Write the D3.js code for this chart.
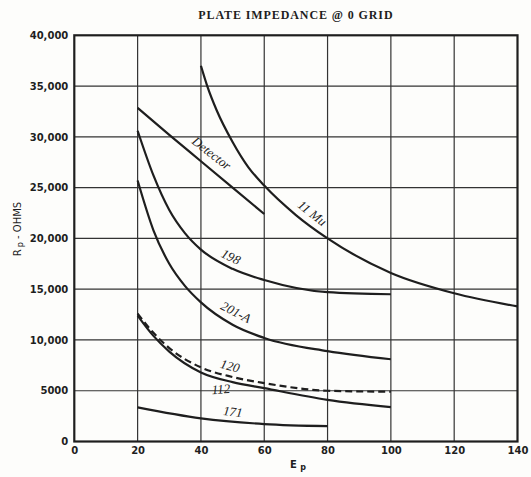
<!DOCTYPE html>
<html>
<head>
<meta charset="utf-8">
<script src="https://cdn.jsdelivr.net/npm/d3@7"></script>
<style>
  html, body { margin: 0; padding: 0; background: #fdfdfb; }
  svg { display: block; }
</style>
</head>
<body>
<svg id="chart" width="531" height="477"></svg>
<script>
// ---- Data ----
const xTicks = [0, 20, 40, 60, 80, 100, 120, 140];
const yTicks = [0, 5000, 10000, 15000, 20000, 25000, 30000, 35000, 40000];
const yTickLabels = ["0", "5000", "10,000", "15,000", "20,000", "25,000", "30,000", "35,000", "40,000"];

const mu11Ep = [40, 42, 45, 50, 55, 60, 70, 80, 100, 120, 140];
const mu11Rp = [37000, 35000, 32600, 29500, 27000, 25200, 22300, 20000, 16600, 14600, 13300];

const detectorEp = [20, 30, 40, 50, 60];
const detectorRp = [32850, 30200, 27600, 25000, 22400];

const t198Ep = [20, 25, 30, 35, 40, 50, 60, 80, 100];
const t198Rp = [30600, 26200, 22800, 20500, 18900, 17000, 15900, 14700, 14500];

const t201Ep = [20, 25, 30, 35, 40, 50, 60, 80, 100];
const t201Rp = [25700, 20800, 17500, 15300, 13700, 11500, 10200, 8900, 8100];

const t120Ep = [20, 25, 30, 40, 50, 60, 80, 100];
const t120Rp = [12600, 10700, 9200, 7300, 6350, 5750, 5000, 4900];

const t112Ep = [20, 25, 30, 40, 50, 60, 80, 100];
const t112Rp = [12400, 10400, 8850, 6800, 5850, 5250, 4100, 3380];

const t171Ep = [20, 40, 60, 80];
const t171Rp = [3360, 2280, 1720, 1520];

const seriesNames = ["11 Mu", "Detector", "198", "201-A", "120", "112", "171"];

// ---- Chart ----
const svg = d3.select("#chart");
const x = d3.scaleLinear().domain([0, 140]).range([74.3, 517.5]);
const y = d3.scaleLinear().domain([0, 40000]).range([441.5, 35.3]);

const ink = "#1e1e1e";

// gridlines
const g = svg.append("g");
g.selectAll("line.v").data(xTicks.slice(1, -1)).join("line")
  .attr("x1", d => x(d)).attr("x2", d => x(d))
  .attr("y1", y(40000)).attr("y2", y(0))
  .attr("stroke", "#333").attr("stroke-width", 1.2);
g.selectAll("line.h").data(yTicks.slice(1, -1)).join("line")
  .attr("x1", x(0)).attr("x2", x(140))
  .attr("y1", d => y(d)).attr("y2", d => y(d))
  .attr("stroke", "#333").attr("stroke-width", 1.2);

// frame
svg.append("rect")
  .attr("x", x(0)).attr("y", y(40000))
  .attr("width", x(140) - x(0)).attr("height", y(0) - y(40000))
  .attr("fill", "none").attr("stroke", ink).attr("stroke-width", 2.2);

// axes (labels only)
const tickFont = "'DejaVu Sans', sans-serif";
const yAxis = d3.axisLeft(y).tickValues(yTicks)
  .tickFormat((d, i) => yTickLabels[i]).tickSize(0).tickPadding(6);
const ya = svg.append("g").attr("transform", `translate(${x(0)},0)`).call(yAxis);
ya.select(".domain").remove();
ya.selectAll("text").attr("font-family", tickFont).attr("font-size", 10)
  .attr("font-weight", "bold").attr("fill", ink);

const xAxis = d3.axisBottom(x).tickValues(xTicks).tickSize(0).tickPadding(5);
const xa = svg.append("g").attr("transform", `translate(0,${y(0)})`).call(xAxis);
xa.select(".domain").remove();
xa.selectAll("text").attr("font-family", tickFont).attr("font-size", 10)
  .attr("font-weight", "bold").attr("fill", ink);

// curves
const line = d3.line().x(d => x(d[0])).y(d => y(d[1])).curve(d3.curveMonotoneX);
const zip = (a, b) => a.map((v, i) => [v, b[i]]);
const curves = [
  { pts: zip(mu11Ep, mu11Rp), dash: null },
  { pts: zip(detectorEp, detectorRp), dash: null },
  { pts: zip(t198Ep, t198Rp), dash: null },
  { pts: zip(t201Ep, t201Rp), dash: null },
  { pts: zip(t120Ep, t120Rp), dash: "7,4" },
  { pts: zip(t112Ep, t112Rp), dash: null },
  { pts: zip(t171Ep, t171Rp), dash: null }
];
svg.append("g").selectAll("path").data(curves).join("path")
  .attr("d", d => line(d.pts))
  .attr("fill", "none").attr("stroke", ink).attr("stroke-width", 2.2)
  .attr("stroke-dasharray", d => d.dash);

// curve labels
const labelPos = [
  { xv: 75.2, yv: 22500, rot: 38 },   // 11 Mu
  { xv: 43.4, yv: 28400, rot: 38 },   // Detector
  { xv: 49.5, yv: 18200, rot: 26 },   // 198
  { xv: 51.1, yv: 12750, rot: 27 },   // 201-A
  { xv: 49.2, yv: 7450, rot: 15 },    // 120
  { xv: 46.3, yv: 5170, rot: -4 },    // 112
  { xv: 50.1, yv: 2950, rot: 7 }      // 171
];
svg.append("g").selectAll("text").data(seriesNames).join("text")
  .attr("transform", (d, i) => `translate(${x(labelPos[i].xv)},${y(labelPos[i].yv)}) rotate(${labelPos[i].rot})`)
  .attr("text-anchor", "middle")
  .attr("dy", "0.35em")
  .attr("font-family", "'Liberation Serif', serif")
  .attr("font-style", "italic")
  .attr("font-size", 13)
  .attr("fill", ink)
  .text(d => d);

// title
svg.append("text")
  .attr("x", (x(0) + x(140)) / 2).attr("y", 19)
  .attr("text-anchor", "middle")
  .attr("font-family", "'Liberation Serif', serif")
  .attr("font-weight", "bold").attr("font-size", 12)
  .attr("letter-spacing", 0.9)
  .attr("fill", ink)
  .text("PLATE IMPEDANCE @ 0 GRID");

// y label
const yl = svg.append("text")
  .attr("transform", "translate(21,229) rotate(-90)")
  .attr("text-anchor", "middle")
  .attr("font-family", tickFont).attr("font-size", 10).attr("fill", ink);
yl.append("tspan").text("R");
yl.append("tspan").attr("font-size", 8).attr("dx", 2).attr("dy", 2).text("p");
yl.append("tspan").attr("dy", -2).text(" - OHMS");

// x label
const xl = svg.append("text")
  .attr("x", 298).attr("y", 468)
  .attr("text-anchor", "middle")
  .attr("font-family", tickFont).attr("font-size", 10).attr("font-weight", "bold").attr("fill", ink);
xl.append("tspan").text("E ");
xl.append("tspan").attr("font-size", 8).attr("dy", 2).text("p");
</script>
</body>
</html>
